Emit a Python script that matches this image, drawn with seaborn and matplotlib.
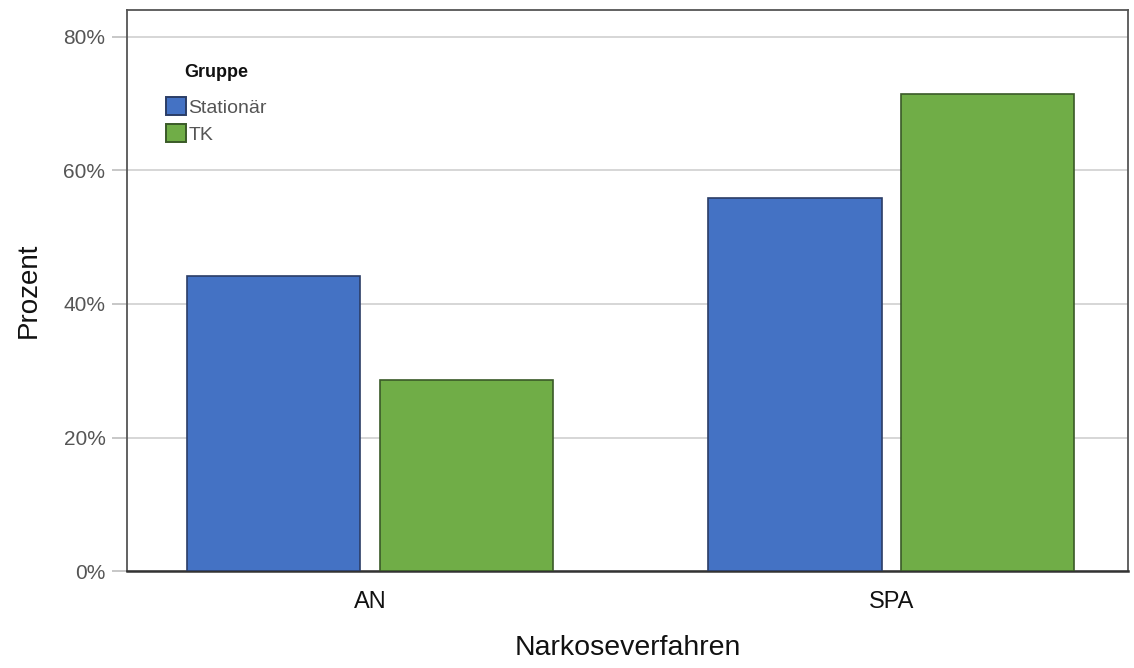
import matplotlib
matplotlib.use("Agg")
import matplotlib.pyplot as plt
import seaborn as sns
import pandas as pd
from matplotlib.patches import Patch
from matplotlib.ticker import FuncFormatter

categories = ["AN", "SPA"]
groups = ["Stationär", "TK"]
stationaer = [44.2, 55.8]
tk = [28.6, 71.4]
yticks = [0, 20, 40, 60, 80]

df = pd.DataFrame({
    "Narkoseverfahren": categories * 2,
    "Gruppe": [groups[0]] * 2 + [groups[1]] * 2,
    "Prozent": stationaer + tk,
})

sns.set_theme(style="white")
plt.rcParams["font.family"] = ["Liberation Sans", "DejaVu Sans"]

colors = {"Stationär": "#4472C4", "TK": "#70AD47"}
edges = {"Stationär": "#2b3d66", "TK": "#3a5a28"}

fig = plt.figure(figsize=(11.34, 6.68), dpi=100)
ax = fig.add_axes([0.112, 0.145, 0.883, 0.840])

sns.barplot(data=df, x="Narkoseverfahren", y="Prozent", hue="Gruppe",
            hue_order=groups, palette=colors, saturation=1, width=0.74, gap=0.1,
            ax=ax, legend=False, zorder=3)
for cont, g in zip(ax.containers, groups):
    for p in cont:
        p.set_edgecolor(edges[g])
        p.set_linewidth(1.2)

ax.set_xlim(-0.466, 1.455)
ax.set_ylim(0, 84)
ax.set_yticks(yticks)
ax.yaxis.set_major_formatter(FuncFormatter(lambda v, _: f"{v:.0f}%"))
ax.grid(axis="y", color="#cfcfcf", linewidth=1.2, zorder=0)
ax.set_axisbelow(True)

ax.tick_params(axis="y", which="major", left=True, length=11, width=1.2, color="#bdbdbd",
               labelsize=15, labelcolor="#555555", direction="out", pad=4.5)
ax.tick_params(axis="x", bottom=False, length=0, labelsize=17, labelcolor="#111111", pad=14)

for s in ax.spines.values():
    s.set_color("#555555")
    s.set_linewidth(1.3)
ax.spines["bottom"].set_color("#333333")
ax.spines["bottom"].set_linewidth(1.8)

ax.set_xlabel("Narkoseverfahren", fontsize=20.5, color="#111111", labelpad=16)
ax.set_ylabel("Prozent", fontsize=20, color="#111111", labelpad=16)

handles = [Patch(facecolor=colors[g], edgecolor=edges[g], linewidth=1.4) for g in groups]
leg = ax.legend(handles, groups, title="Gruppe", loc="upper left",
                bbox_to_anchor=(0.031, 0.917), frameon=False, fontsize=14,
                title_fontproperties={"weight": "bold", "size": 13},
                handlelength=1.05, handleheight=1.0, handletextpad=0.1,
                labelspacing=0.4, borderaxespad=0)
for t in leg.get_texts():
    t.set_color("#555555")
leg.get_title().set_color("#111111")
leg._legend_box.sep = 11.5

fig.savefig("out.png", dpi=100)
